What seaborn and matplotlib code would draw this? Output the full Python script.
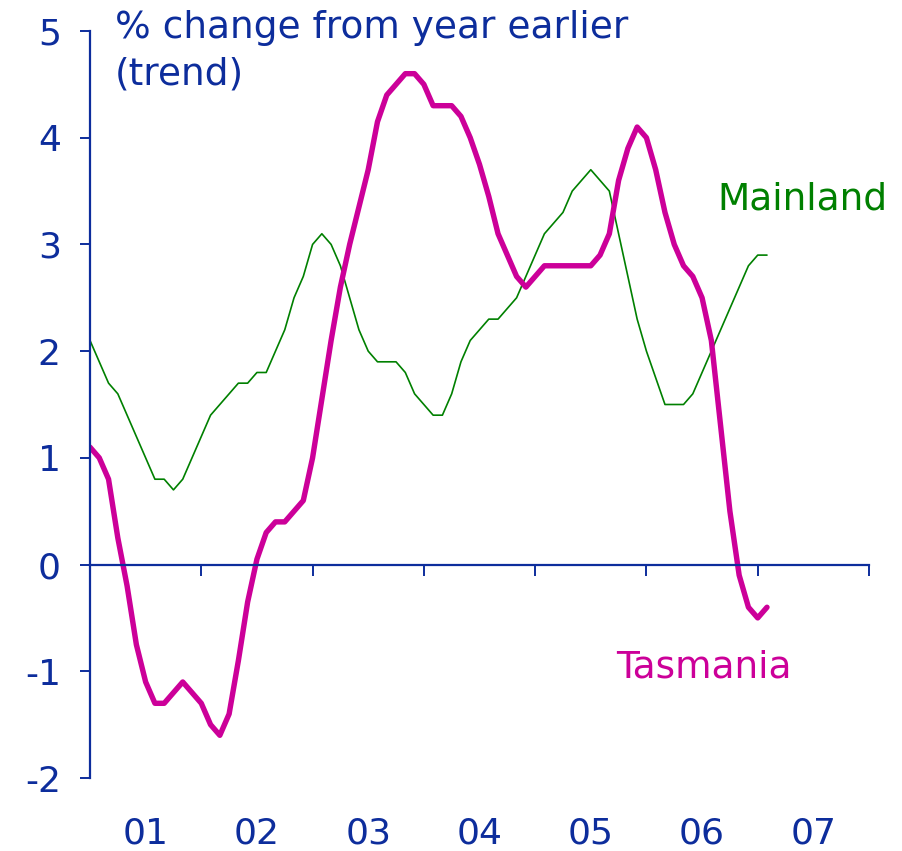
import numpy as np
import pandas as pd
import matplotlib
matplotlib.use("Agg")
import matplotlib.pyplot as plt
import matplotlib.transforms as mtransforms
import seaborn as sns

# ---- data (monthly, Jan 2001 .. Feb 2007) ----
start_year = 2001
mainland = [2.1, 1.9, 1.7, 1.6, 1.4, 1.2, 1.0, 0.8, 0.8, 0.7,
            0.8, 1.0, 1.2, 1.4, 1.5, 1.6, 1.7, 1.7, 1.8, 1.8,
            2.0, 2.2, 2.5, 2.7, 3.0, 3.1, 3.0, 2.8, 2.5, 2.2,
            2.0, 1.9, 1.9, 1.9, 1.8, 1.6, 1.5, 1.4, 1.4, 1.6,
            1.9, 2.1, 2.2, 2.3, 2.3, 2.4, 2.5, 2.7, 2.9, 3.1,
            3.2, 3.3, 3.5, 3.6, 3.7, 3.6, 3.5, 3.1, 2.7, 2.3,
            2.0, 1.75, 1.5, 1.5, 1.5, 1.6, 1.8, 2.0, 2.2, 2.4,
            2.6, 2.8, 2.9, 2.9]
tasmania = [1.1, 1.0, 0.8, 0.25, -0.2, -0.75, -1.1, -1.3, -1.3, -1.2,
            -1.1, -1.2, -1.3, -1.5, -1.6, -1.4, -0.9, -0.35, 0.05, 0.3,
            0.4, 0.4, 0.5, 0.6, 1.0, 1.55, 2.1, 2.6, 3.0, 3.35,
            3.7, 4.15, 4.4, 4.5, 4.6, 4.6, 4.5, 4.3, 4.3, 4.3,
            4.2, 4.0, 3.75, 3.45, 3.1, 2.9, 2.7, 2.6, 2.7, 2.8,
            2.8, 2.8, 2.8, 2.8, 2.8, 2.9, 3.1, 3.6, 3.9, 4.1,
            4.0, 3.7, 3.3, 3.0, 2.8, 2.7, 2.5, 2.1, 1.3, 0.5,
            -0.1, -0.4, -0.5, -0.4]
year_labels = ["01", "02", "03", "04", "05", "06", "07"]
y_ticks = [-2, -1, 0, 1, 2, 3, 4, 5]

months = np.arange(len(mainland))
t = start_year + months / 12.0
df = pd.DataFrame({"t": t, "Mainland": mainland, "Tasmania": tasmania})

# ---- style ----
BLUE = "#0d2d9c"
GREEN = "#008000"
MAGENTA = "#cc0099"
FS = 26
FS_TXT = 27

sns.set_style("white")
plt.rcParams["font.family"] = ["DejaVu Sans"]

fig = plt.figure(figsize=(9.03, 8.51), dpi=100)
ax = fig.add_axes([90 / 903, 73 / 851, 779 / 903, 747 / 851])

sns.lineplot(data=df, x="t", y="Mainland", ax=ax, color=GREEN, linewidth=1.2)
sns.lineplot(data=df, x="t", y="Tasmania", ax=ax, color=MAGENTA, linewidth=3.9)

ax.set_xlim(2001, 2008)
ax.set_ylim(-2, 5)
ax.set_xlabel("")
ax.set_ylabel("")

for s in ["top", "right"]:
    ax.spines[s].set_visible(False)
ax.spines["left"].set_color(BLUE)
ax.spines["left"].set_linewidth(1.6)
ax.spines["bottom"].set_position(("data", 0))
ax.spines["bottom"].set_color(BLUE)
ax.spines["bottom"].set_linewidth(1.6)

ax.set_yticks(y_ticks)
ax.set_yticklabels([str(v) for v in y_ticks])
ax.tick_params(axis="y", direction="out", length=7, width=1.4, color=BLUE,
               labelcolor=BLUE, labelsize=FS, pad=14, left=True)
ax.set_xticks(np.arange(2002, 2009))
ax.set_xticklabels([])
ax.tick_params(axis="x", direction="out", length=8, width=1.4, color=BLUE,
               bottom=True)

trans = mtransforms.blended_transform_factory(ax.transData, ax.transAxes)
for i, lab in enumerate(year_labels):
    ax.text(start_year + i + 0.5, -0.074, lab, transform=trans, ha="center",
            va="center", color=BLUE, fontsize=FS)

fig.text(115 / 903, 1 - 10 / 851, "% change from year earlier\n(trend)",
         ha="left", va="top", color=BLUE, fontsize=FS_TXT, linespacing=1.38)

ax.text(2006.64, 3.42, "Mainland", color=GREEN, fontsize=FS_TXT, ha="left",
        va="center")
ax.text(2005.73, -0.96, "Tasmania", color=MAGENTA, fontsize=FS_TXT, ha="left",
        va="center")

fig.savefig("out.png", dpi=100)
